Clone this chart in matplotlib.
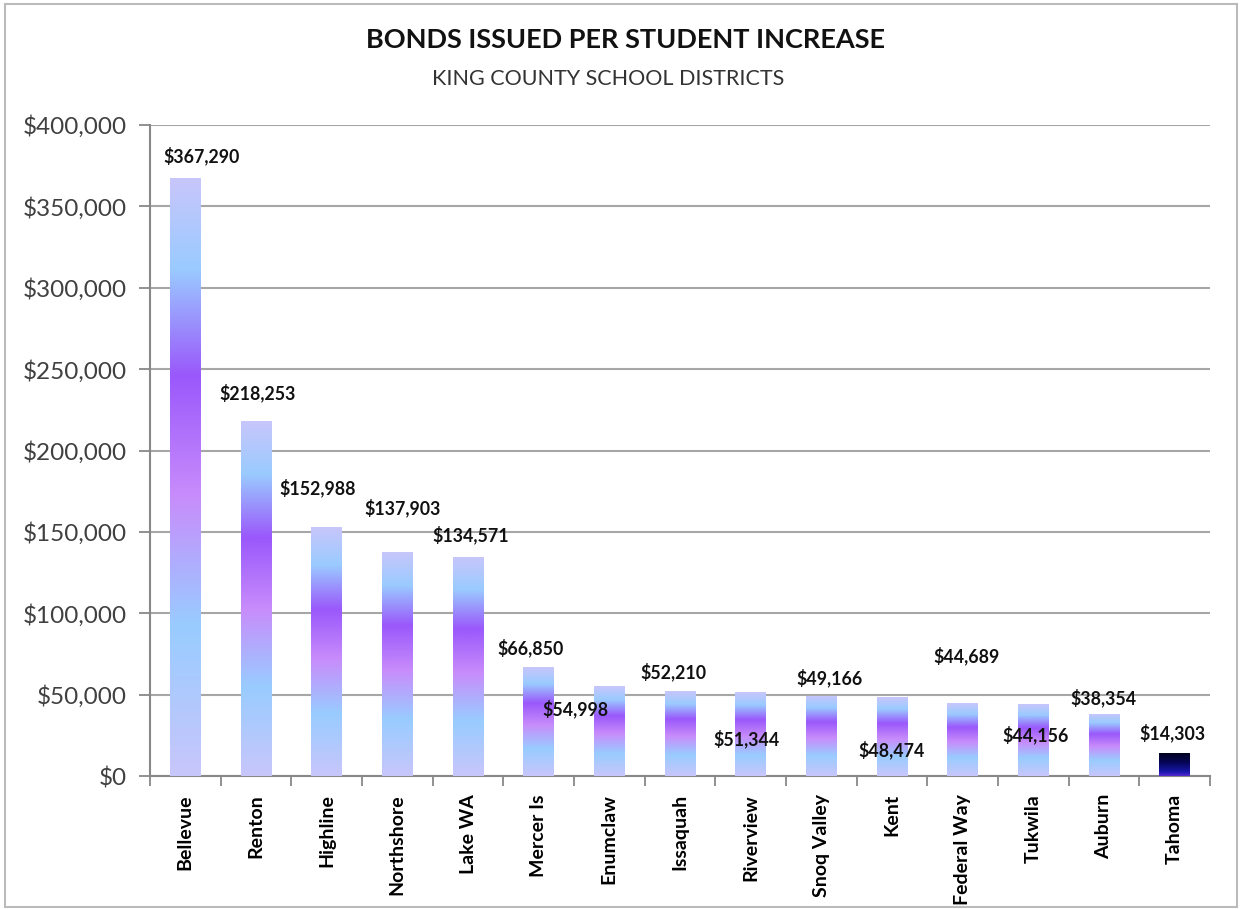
import numpy as np
import matplotlib
matplotlib.use("Agg")
import matplotlib.pyplot as plt
import matplotlib.ticker as mtick
from matplotlib.colors import LinearSegmentedColormap
from matplotlib.patches import Rectangle

# Data
districts = ["Bellevue", "Renton", "Highline", "Northshore", "Lake WA", "Mercer Is",
             "Enumclaw", "Issaquah", "Riverview", "Snoq Valley", "Kent", "Federal Way",
             "Tukwila", "Auburn", "Tahoma"]
bonds_per_student = [367290, 218253, 152988, 137903, 134571, 66850,
                     54998, 52210, 51344, 49166, 48474, 44689,
                     44156, 38354, 14303]

# label placement (pixels, relative to bar top / bar centre)
label_dx = [16, 2, -9, 5, 3, -8, -34, -7, -4, 8, 0, 4, 2, -1, -2]
label_dy = [22, 28, 39, 44, 22, 19, -22, 19, -46, 18, -53, 47, -31, 16, 20]

FONT = "Lato"
W, H = 1241, 909

fig = plt.figure(figsize=(W / 100, H / 100), dpi=100)
ax = fig.add_axes([150 / W, 1 - 776 / H, 1060 / W, 651 / H])

# gradient fills
grad_main = LinearSegmentedColormap.from_list("main", [
    (0.00, "#c8c6fb"), (0.15, "#9acbff"), (0.33, "#9a58fb"),
    (0.53, "#c88cfb"), (0.75, "#99ccff"), (1.00, "#c8c6fb")])
grad_dark = LinearSegmentedColormap.from_list("dark", [
    (0.00, "#000018"), (0.45, "#06065a"), (0.85, "#1a18b0"), (1.00, "#5a2ad0")])

x = np.arange(len(districts))
bar_w = 0.43
bars = ax.bar(x, bonds_per_student, width=bar_w, color="none", edgecolor="none", zorder=3)
ramp = np.linspace(0, 1, 256).reshape(-1, 1)
for i, b in enumerate(bars):
    cmap = grad_dark if districts[i] == "Tahoma" else grad_main
    im = ax.imshow(ramp, cmap=cmap, aspect="auto", origin="upper", interpolation="bicubic",
                   extent=[b.get_x(), b.get_x() + b.get_width(), 0, b.get_height()], zorder=3)
    im.set_clip_path(b)

for i, b in enumerate(bars):
    ax.annotate(f"${bonds_per_student[i]:,}",
                xy=(b.get_x() + b.get_width() / 2, b.get_height()),
                xytext=(label_dx[i], label_dy[i]), textcoords="offset pixels",
                ha="center", va="center", fontsize=12.8, fontweight="bold",
                family=FONT, color="#111111", zorder=5)

ax.set_xlim(-0.5, len(districts) - 0.5)
ax.set_ylim(0, 400000)
ax.set_yticks(np.arange(0, 400001, 50000))
ax.yaxis.set_major_formatter(mtick.StrMethodFormatter("${x:,.0f}"))
ax.set_xticks(x)
ax.set_xticklabels(districts, rotation=90, fontsize=14, fontweight="bold", family=FONT)
ax.set_xticks(np.arange(-0.5, len(districts), 1), minor=True)
ax.tick_params(axis="x", which="major", length=0, pad=13)
ax.tick_params(axis="x", which="minor", length=7, width=1.3, color="#888888", direction="out")
ax.tick_params(axis="y", length=8, width=1.3, color="#888888", pad=9, labelsize=17.5,
               labelcolor="#404040")
for lab in ax.get_yticklabels():
    lab.set_family(FONT)

ax.grid(True, axis="y", color="#a6a6a6", linewidth=1.5, zorder=0)
ax.set_axisbelow(True)
for s in ["top", "right"]:
    ax.spines[s].set_visible(False)
for s in ["left", "bottom"]:
    ax.spines[s].set_color("#888888")
    ax.spines[s].set_linewidth(1.5)

fig.text(625 / W, 1 - 40 / H, "BONDS ISSUED PER STUDENT INCREASE", ha="center", va="center",
         fontsize=19.5, fontweight="bold", family=FONT, color="#111111")
fig.text(608 / W, 1 - 79 / H, "KING COUNTY SCHOOL DISTRICTS", ha="center", va="center",
         fontsize=15.5, family=FONT, color="#333333")

fig.patches.append(Rectangle((5 / W, 0.002), 1 - 9 / W, 1 - 6 / H, transform=fig.transFigure,
                             fill=False, edgecolor="#bbbbbb", linewidth=1.5))

fig.savefig("out.png", dpi=100)
